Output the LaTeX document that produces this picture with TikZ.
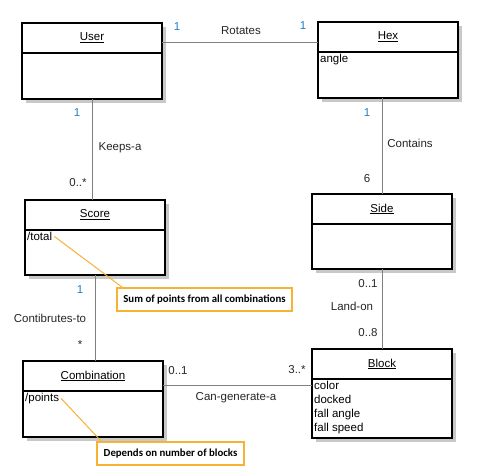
\documentclass[tikz,border=0pt]{standalone}
\usepackage{fontspec}
\setmainfont{Liberation Sans}
\newfontfamily\notefont{Carlito}
\usepackage{xcolor}
\usetikzlibrary{positioning,shadows,calc}

\definecolor{noteorange}{RGB}{247,178,52}
\definecolor{multblue}{RGB}{30,126,200}
\definecolor{linegray}{RGB}{128,128,128}
\definecolor{shadowgray}{RGB}{200,200,200}

\tikzset{
  classhead/.style={draw, line width=1.5pt, fill=white, outer sep=0pt, inner sep=0pt,
    minimum width=140pt, minimum height=30pt, anchor=north west,
    font=\fontsize{11.5}{13}\selectfont,
    drop shadow={shadow xshift=4pt, shadow yshift=-4pt, fill=shadowgray, opacity=1}},
  classbody/.style={classhead, anchor=north, minimum height=#1},
  classbody/.default=46pt,
  attr/.style={anchor=north west, inner sep=2pt, align=left,
    font=\fontsize{11.5}{14}\selectfont},
  assoc/.style={draw=linegray, line width=1pt},
  mult/.style={inner sep=1pt, text=multblue, font=\fontsize{11.5}{13}\selectfont},
  role/.style={inner sep=1pt, text=black!85, font=\fontsize{11.5}{13}\selectfont},
  note/.style={draw=noteorange, line width=1.5pt, fill=white, minimum height=23pt,
    inner sep=2pt, font=\notefont\bfseries\fontsize{10.8}{12}\selectfont},
  notelink/.style={draw=noteorange, line width=1pt}
}

\begin{document}
\begin{tikzpicture}[x=1pt,y=-1pt]
	\useasboundingbox (0,0) rectangle (483,466);
	
	%--- Classes ---
	\node[classhead] (user) at (22,23) {\underline{User}};
	\node[classbody, below=0pt of user] (userbody) {};
	
	\node[classhead] (hex) at (318,22) {\underline{Hex}};
	\node[classbody, below=0pt of hex, label={[attr]north west:angle}] (hexbody) {};
	
	\node[classhead] (score) at (25,200) {\underline{Score}};
	\node[classbody=45pt, below=0pt of score, label={[attr,name=total]north west:/total}] (scorebody) {};
	
	\node[classhead] (side) at (312,194) {\underline{Side}};
	\node[classbody=45pt, below=0pt of side] (sidebody) {};
	
	\node[classhead] (combination) at (23,361) {\underline{Combination}};
	\node[classbody, below=0pt of combination, label={[attr,name=points]north west:/points}] (combinationbody) {};
	
	\node[classhead] (block) at (312,349) {\underline{Block}};
	\node[classbody=59pt, below=0pt of block,
		label={[attr]north west:color\\docked\\fall angle\\fall speed}] (blockbody) {};
	
	%--- Associations ---
	\draw[assoc] ([yshift=-4pt]user.east) -- ([yshift=-4pt]user.east -| hex.west);
	\draw[assoc] (userbody.south) -- (userbody.south |- score.north);
	\draw[assoc] (hexbody.south -| side.north) -- (side.north);
	\draw[assoc] (scorebody.south) -- (scorebody.south |- combination.north);
	\draw[assoc] (sidebody.south) -- (block.north);
	\draw[assoc] ([yshift=6pt]combinationbody.north east) -- ([yshift=6pt]combinationbody.north east -| block.west);
	
	% Rotates
	\node[mult] (rotA) at (177,27) {1};
	\node[role] (rot) at (241,31) {Rotates};
	\node[mult] (rotB) at (303,26) {1};
	
	% Keeps-a
	\node[mult] (keepA) at (77,113) {1};
	\node[role] (keep) at (120,148) {Keeps-a};
	\node[role] (keepB) at (78,183) {0..*};
	
	% Contains
	\node[mult] (contA) at (367,113) {1};
	\node[role] (cont) at (410,143) {Contains};
	\node[role] (contB) at (367,179) {6};
	
	% Contibrutes-to
	\node[mult] (contribA) at (80,290) {1};
	\node[role] (contrib) at (50,318) {Contibrutes-to};
	\node[role] (contribB) at (80,345) {*};
	
	% Land-on
	\node[role] (landA) at (368,284) {0..1};
	\node[role] (land) at (352,306) {Land-on};
	\node[role] (landB) at (368,333) {0..8};
	
	% Can-generate-a
	\node[role] (genA) at (178,371) {0..1};
	\node[role] (gen) at (236,398) {Can-generate-a};
	\node[role] (genB) at (297,370) {3..*};
	
	%--- Notes ---
	\node[note, minimum width=175pt] (sumnote) at (204.5,299.5) {Sum of points from all combinations};
	\draw[notelink] (total.east) -- ([xshift=6pt]sumnote.north west);
	
	\node[note, minimum width=147pt] (dependnote) at (170.5,453.5) {Depends on number of blocks};
	\draw[notelink] (points.east) -- ([xshift=5pt]dependnote.north west);
	
\end{tikzpicture}
\end{document}
